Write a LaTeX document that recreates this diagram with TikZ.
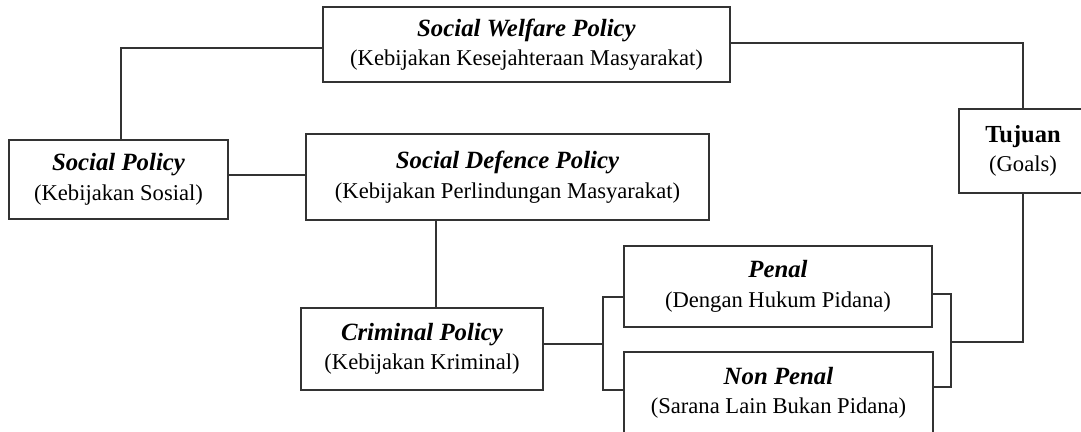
\documentclass[tikz,border=0pt]{standalone}
\usepackage{fontspec}
\setmainfont{Liberation Serif}
\usetikzlibrary{positioning}
\tikzset{
  box/.style={draw=black!80, line width=1.2pt, align=center, inner sep=0pt,
    font=\fontsize{22.6}{29.5}\selectfont},
  link/.style={draw=black!80, line width=1.2pt},
}
\newcommand{\head}[1]{{\fontsize{24.8}{29.5}\selectfont\textbf{\textit{#1}}}}
\newcommand{\goal}[1]{{\fontsize{24.5}{29.5}\selectfont\textbf{#1}}}
\begin{document}
\begin{tikzpicture}[x=1pt, y=-1pt]
  \useasboundingbox (0,0) rectangle (1081,431);
  \clip (0,0) rectangle (1081,431);

  \node[box, minimum width=407pt, minimum height=75pt] (welfare) at (526.5,44.5)
    {\head{Social Welfare Policy}\\(Kebijakan Kesejahteraan Masyarakat)};
  \node[box, minimum width=219pt, minimum height=79pt] (social) at (118.5,179.5)
    {\head{Social Policy}\\(Kebijakan Sosial)};
  \node[box, minimum width=403pt, minimum height=86pt] (defence) at (507.5,177)
    {\head{Social Defence Policy}\\(Kebijakan Perlindungan Masyarakat)};
  \node[box, minimum width=128pt, minimum height=84pt] (tujuan) at (1023,151)
    {\goal{Tujuan}\\(Goals)};
  \node[box, minimum width=242pt, minimum height=82pt] (criminal) at (422,349)
    {\head{Criminal Policy}\\(Kebijakan Kriminal)};
  \node[box, minimum width=308pt, minimum height=81pt] (penal) at (778,286.5)
    {\head{Penal}\\(Dengan Hukum Pidana)};
  \node[box, minimum width=309pt, minimum height=82pt] (nonpenal) at (778.5,393)
    {\head{Non Penal}\\(Sarana Lain Bukan Pidana)};

  \coordinate (lfork) at (603,344);
  \coordinate (rfork) at (951,342);

  % top level
  \draw[link] ([yshift=-3.5pt]welfare.west) -| ([xshift=2.5pt]social.north);
  \draw[link] ([yshift=1.5pt]welfare.east) -| (tujuan.north);
  \draw[link] ([yshift=4.5pt]social.east) -- ([yshift=4.5pt]social.east -| defence.west);
  \draw[link] ([xshift=14pt]criminal.north) -- ([xshift=14pt]criminal.north |- defence.south);

  % penal / non penal
  \draw[link] ([yshift=5pt]criminal.east) -- (lfork);
  \draw[link] ([yshift=-10.5pt]penal.west) -| (lfork) |- ([yshift=3pt]nonpenal.west);
  \draw[link] ([yshift=-7.5pt]penal.east) -| (rfork) |- ([yshift=6pt]nonpenal.east);
  \draw[link] (rfork) -| (tujuan.south);
\end{tikzpicture}
\end{document}
